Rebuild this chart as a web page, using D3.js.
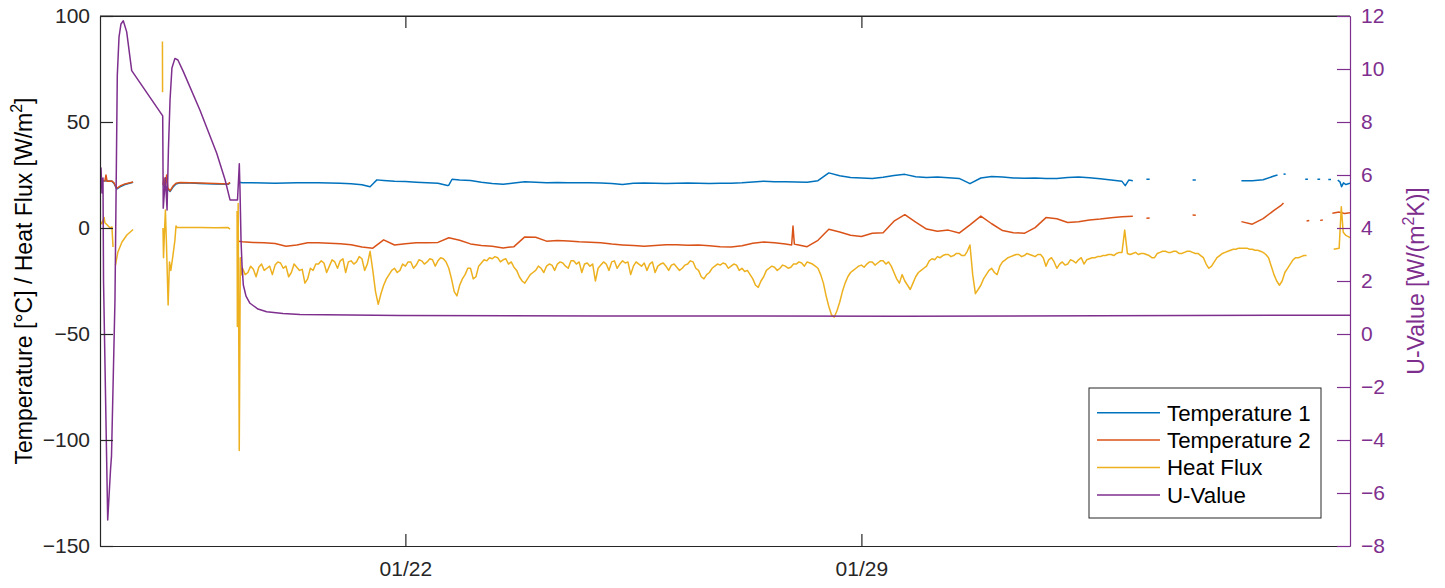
<!DOCTYPE html>
<html><head><meta charset="utf-8">
<script src="https://cdn.jsdelivr.net/npm/d3@7"></script>
<style>
body{margin:0;background:#fff}
text{font-family:"Liberation Sans",Arial,Helvetica,sans-serif}
</style>
</head><body>
<svg id="chart" width="1445" height="588"></svg>
<script>
// ---------------- DATA ----------------
// time origin; every series time is given in hours from this moment
const baseTime = new Date(2021, 0, 19, 12, 0);
const xDomainHours = [-52.5, 408];
const xTickDates = [new Date(2021, 0, 22), new Date(2021, 0, 29)];
const leftTicks = [-150, -100, -50, 0, 50, 100];
const rightTicks = [-8, -6, -4, -2, 0, 2, 4, 6, 8, 10, 12];
const seriesNames = ["Temperature 1", "Temperature 2", "Heat Flux", "U-Value"];
const seriesColors = ["#0072BD", "#D95319", "#EDB120", "#7E2F8E"];

// [hours, value]; null = gap in the record
const temperature1 = [
  [-52.5,22.4],[-48.1,22.0],[-47.3,21.0],[-46.35,18.4],[-45.1,19.4],[-43.3,20.5],[-40.3,21.6],null,
  [-29.3,20.0],[-28.2,19.5],[-26.7,17.2],[-25.6,19.3],[-24.5,20.8],[-23.0,21.3],[-19.3,21.2],[-15.7,21.0],[-10.1,20.8],[-5.3,20.6],[-4.6,21.3],null,
  [-1.5,21.6],[0,21.4],[4,21.3],[8,21.2],[12,21.1],[16,21.2],[20,21.3],[24,21.4],[28,21.3],[32,21.2],[36,21.1],[40,20.9],[44,20.4],[47,19.5],[48,20.8],[49.5,22.7],[52,22.4],
  [56,22.0],[60,21.9],[64,21.6],[68,21.3],[72,21.1],[75.5,20.0],[76,20.2],[77.2,23.0],[80,22.6],[84,22.4],[88,21.6],[92,21.0],[96,20.6],[100,21.2],[104,21.8],
  [108,21.6],[112,21.4],[116,21.5],[120,21.3],[124,21.4],[128,21.3],[132,21.2],[136,21.0],[140,20.5],[144,21.1],[148,21.2],[152,21.1],[156,21.0],[160,21.1],
  [164,21.2],[168,21.1],[172,21.0],[176,21.1],[180,21.1],[184,21.3],[188,21.7],[192,22.1],[196,21.8],[200,21.8],[204,21.7],[208,21.6],[212,22.3],[216,26.0],
  [220,24.6],[224,23.8],[228,23.6],[232,23.4],[236,23.9],[240,24.8],[244,25.3],[248,24.2],[252,23.8],[256,24.0],[260,23.7],[264,23.4],[268,20.9],[272,23.6],
  [276,24.3],[280,24.0],[284,23.6],[288,23.5],[292,23.6],[296,23.3],[300,23.4],[304,23.8],[308,24.0],[312,23.7],[316,23.2],[320,22.6],[324,22.0],[325.2,20.0],
  [326.5,22.6],[328,22.3],null,[333,23.0],[334.2,23.0],null,[350,22.6],[351.2,22.6],null,
  [368,22.3],[372,22.3],[376,22.8],[380,24.5],[381.3,25.0],null,[383.5,25.5],[384.3,25.4],null,[391.5,23.0],[392.5,23.0],null,[396,23.0],[397,23.0],null,
  [400,22.9],[401,22.9],null,[403.5,22.6],[404.3,21.8],[404.9,19.5],[405.6,21.3],[406.5,20.5],[408,21.1]
];
const temperature2 = [
  [-52.5,22.6],[-50.7,22.2],[-50.3,25.0],[-49.9,22.0],[-48.1,22.2],[-47.3,21.2],[-46.35,18.7],[-45.1,19.8],[-43.3,20.8],[-40.3,21.7],null,
  [-29.3,20.3],[-28.9,23.6],[-28.6,17.9],[-27.95,25.0],[-27.5,18.9],[-26.7,17.5],[-25.6,19.8],[-24.5,21.1],[-23.0,21.5],[-19.3,21.4],[-15.7,21.2],[-10.1,21.0],[-5.3,20.8],[-4.6,21.5],null,
  [-1.5,-6.2],[0,-6.5],[4,-6.8],[8,-7.0],[12,-7.3],[16,-8.6],[20,-8.0],[24,-7.0],[28,-6.9],[32,-7.2],[36,-7.4],[40,-7.9],[44,-9.0],[48,-9.5],[52,-5.6],
  [56,-8.0],[60,-7.4],[64,-7.0],[68,-7.0],[72,-6.8],[76,-4.6],[80,-5.8],[84,-7.5],[88,-8.2],[92,-8.6],[96,-9.4],[100,-8.8],[104,-4.2],[108,-4.4],
  [112,-6.2],[116,-5.9],[120,-6.1],[124,-6.5],[128,-6.7],[132,-7.0],[136,-7.6],[140,-8.0],[144,-8.3],[148,-8.6],[152,-8.2],[156,-7.9],[160,-7.9],
  [164,-8.1],[168,-8.0],[172,-8.4],[176,-8.8],[180,-9.0],[184,-8.4],[188,-7.2],[192,-6.6],[196,-7.0],[200,-7.6],[202.3,-8.0],[202.8,0.9],[203.3,-7.6],
  [204,-7.8],[208,-8.8],[212,-5.8],[216,-0.6],[220,-1.9],[224,-3.4],[228,-4.0],[232,-2.5],[236,-2.2],[240,3.2],[244,6.3],[248,2.8],[252,-0.5],
  [256,-1.5],[260,-1.0],[264,-2.4],[268,1.5],[272,5.6],[276,2.0],[280,-1.2],[284,-2.2],[288,-2.5],[292,0.2],[296,4.9],[300,4.4],[304,2.6],[308,3.0],
  [312,3.8],[316,4.2],[320,4.8],[324,5.3],[328,5.6],null,[333,4.6],[334.2,4.7],null,[350,6.1],[351.2,6.0],null,
  [368,3.0],[372,1.8],[376,4.4],[380,8.3],[382.5,10.5],[383.5,11.8],null,[392,3.3],[393,3.5],null,[397,3.6],[398,3.8],null,
  [401.5,7.0],[404,7.5],[406,6.8],[408,7.2]
];
// heat flux before the main record, [hours, value]
const heatFluxEarly = [
  [-52.5,3.5],[-51.8,2],[-51.0,5],[-50.7,2.5],[-49.9,1.5],[-48.8,0],[-48.1,0.5],[-47.7,-9],null,
  [-46.8,-17.5],[-45.9,-11.3],[-44.4,-6.6],[-42.6,-3.3],[-40.3,-0.7],null,
  [-29.5,88],[-29.45,64],null,
  [-29.3,0],[-29.1,-14],[-28.75,-2],[-28.4,8.5],[-28.0,-8],[-27.4,-36.3],[-26.9,-16],[-26.4,-20],[-25.6,-12.7],[-24.9,-5.7],[-24.5,1],[-24.1,0.2],
  [-15.7,0.2],[-10.1,0.1],[-5.3,0.2],[-4.6,-0.5],null,
  [-2.0,8],[-1.9,-46.5],[-1.6,11.6],[-1.2,-105],[-0.8,-14],[-0.4,-22]
];
// main heat flux record: one reading per hour from hour 0
const heatFluxHourly = [
  -19,-22,-21,-18,-19.5,-23,-18.5,-17,-20,-19,-18,-22,-17.5,-16,-16.5,-19,-18,-23,-21,-17,
  -18.5,-20,-19.5,-26,-24,-19,-20,-17,-17,-15.5,-16.5,-21,-18,-15,-16,-19,-15.5,-14.5,-21,-16,
  -15.5,-17,-16,-13.5,-14.5,-20,-17,-11,-20,-30,-36,-31,-27,-24,-22,-20,-19,-21,-20,-17,
  -18,-16,-16,-19,-17.5,-15,-15.5,-17,-16,-14.5,-15,-18,-15.5,-14,-14.5,-16,-19,-24,-30,-32,
  -27,-24,-22,-19,-19,-24,-23,-18,-16.5,-15,-15.5,-14,-14.5,-13.5,-14,-16,-15,-14.5,-17,-16,
  -18.5,-20,-23,-25,-26,-24,-22,-21,-20,-18,-19,-21,-18,-17,-17.5,-20,-17,-16,-16.5,-18,
  -19,-15.5,-15.5,-17,-16,-21,-17,-16.5,-18,-17,-25,-19,-17.5,-16,-17,-20,-16,-15.5,-19,-17,
  -15.5,-16.5,-16,-22,-18,-16,-17,-18,-16.5,-20,-17,-16,-21,-18,-17,-16.5,-18,-20,-17.5,-17,
  -18.5,-20,-19,-17.5,-17,-15.5,-16,-19,-20,-23,-24,-22,-21,-19,-18,-17,-17.5,-16.5,-17,-19,
  -18,-17,-17.5,-20,-19,-20.5,-20,-22,-24,-27,-28,-25,-23,-20,-19,-18,-18.5,-20,-19,-17.5,
  -18,-19,-18.5,-17,-17,-16,-16.5,-18,-16,-16.5,-17,-18,-19,-22,-26,-32,-37,-41,-42,-39,
  -35,-30,-26,-23,-21,-20,-19,-18,-17.5,-18.5,-17,-16,-16,-17.5,-16.5,-15.5,-15.5,-17,-16,-18,
  -21,-24,-26,-22,-25,-27,-29,-26,-23,-21,-20,-19,-18,-15.5,-14.5,-15,-13.5,-14,-13,-12.5,
  -12.5,-13.5,-13,-12,-12,-13,-13,-11,-8,-22,-31,-29,-27,-24,-22,-20,-19,-21,-22,-18,
  -16,-15,-14,-13.5,-13,-12.5,-12.5,-13.5,-13,-12,-12.5,-13,-13.5,-12.5,-12.5,-14,-18,-15,-14,-16,
  -19,-17,-16,-17.5,-17,-15,-15.5,-16.5,-15,-14,-17,-15,-14.5,-14,-14,-13.5,-13.5,-13,-13,-12.5,
  -12.5,-13,-12,-11.5,-11.5,-1,-12,-12.5,-12,-11.5,-12.5,-12,-12,-12.5,-13,-14,-14,-12,-11.5,-11,
  -11,-11.5,-11.5,-11,-11,-12,-12,-11.5,-11,-11,-11.5,-12,-12,-13,-14,-17,-19,-18,-16,-14,
  -13,-12,-11.5,-11,-10.5,-10,-10,-9.5,-9.5,-9.5,-9.5,-10,-10,-10.5,-10.5,-11,-11.5,-12.5,-14,-18,
  -22,-25,-27,-25,-21,-19,-17,-15,-14,-14,-13.5,-13,-13
];
// heat flux after the data gap, [hours, value]
const heatFluxLate = [[402,-10],[404,-9.5],[404.8,10],[405.5,-2],[406.5,-3.5],[408,-4.5]];
const uValue = [
  [-52.4,6.0],[-52.13,6.26],[-51.77,5.32],[-51.4,5.89],[-51.2,2.0],[-49.66,-7.02],[-48.63,-5.13],[-48.26,-4.6],[-46.98,1.3],[-46.13,9.75],
  [-45.5,11.2],[-44.77,11.7],[-43.92,11.82],[-42.67,11.4],[-40.82,9.94],[-29.4,8.23],[-29.2,4.75],[-28.4,5.9],[-27.8,4.68],[-27.3,6.94],
  [-26.7,8.83],[-26.0,10.04],[-24.9,10.4],[-23.8,10.34],[-21.8,9.9],[-15.7,8.45],[-9.5,6.82],[-6.4,5.81],[-4.6,5.06],[-1.84,5.06],[-1.47,5.81],
  [-1.18,6.42],[-0.92,5.43],[-0.55,3.55],[-0.18,2.6],[0.3,1.85],[1.29,1.43],[2.76,1.16],[5.7,0.94],[8.9,0.84],[14.9,0.77],[21.2,0.74],
  [58,0.70],[131.7,0.68],[242.3,0.67],[316,0.69],[408,0.71]
];

const heatFlux = heatFluxEarly
  .concat(heatFluxHourly.map((v, i) => [i, v]))
  .concat([null], heatFluxLate);

// ---------------- DRAW ----------------
const W = 1445, H = 588;
const plot = {left: 100, right: 1350, top: 16, bottom: 546};
const axisColor = "#262626";
const rightColor = "#7E2F8E";
const tickFont = 21, labelFont = 23, legendFont = 22.3;
const lineWidth = 1.5;

const toDate = h => new Date(baseTime.getTime() + h * 3600e3);
const x = d3.scaleTime().domain(xDomainHours.map(toDate)).range([plot.left, plot.right]);
const yL = d3.scaleLinear().domain([-150, 100]).range([plot.bottom, plot.top]);
const yR = d3.scaleLinear().domain([-8, 12]).range([plot.bottom, plot.top]);

const svg = d3.select("#chart");
svg.append("rect").attr("width", W).attr("height", H).attr("fill", "#fff");

svg.append("defs").append("clipPath").attr("id", "clip")
  .append("rect").attr("x", plot.left).attr("y", plot.top)
  .attr("width", plot.right - plot.left).attr("height", plot.bottom - plot.top);

const g = svg.append("g").attr("clip-path", "url(#clip)");
const lineL = d3.line().defined(d => d !== null).x(d => x(toDate(d[0]))).y(d => yL(d[1]));
const lineR = d3.line().defined(d => d !== null).x(d => x(toDate(d[0]))).y(d => yR(d[1]));

[temperature1, temperature2, heatFlux].forEach((s, i) => {
  g.append("path").datum(s).attr("d", lineL).attr("fill", "none")
    .attr("stroke", seriesColors[i]).attr("stroke-width", lineWidth).attr("stroke-linejoin", "round");
});
g.append("path").datum(uValue).attr("d", lineR).attr("fill", "none")
  .attr("stroke", seriesColors[3]).attr("stroke-width", lineWidth).attr("stroke-linejoin", "round");

// box top line
svg.append("line").attr("x1", plot.left).attr("x2", plot.right).attr("y1", plot.top).attr("y2", plot.top)
  .attr("stroke", axisColor).attr("stroke-width", 1.2);

// bottom axis
const xAxis = svg.append("g").attr("transform", `translate(0,${plot.bottom})`)
  .call(d3.axisBottom(x).tickValues(xTickDates).tickFormat(d3.timeFormat("%m/%d"))
    .tickSize(-12).tickSizeOuter(0).tickPadding(15));
// top ticks
const xAxisTop = svg.append("g").attr("transform", `translate(0,${plot.top})`)
  .call(d3.axisTop(x).tickValues(xTickDates).tickFormat("").tickSize(-12).tickSizeOuter(0));

// left axis
const yAxisL = svg.append("g").attr("transform", `translate(${plot.left},0)`)
  .call(d3.axisLeft(yL).tickValues(leftTicks).tickSize(-13).tickSizeOuter(0).tickPadding(10));

// right axis
const yAxisR = svg.append("g").attr("transform", `translate(${plot.right},0)`)
  .call(d3.axisRight(yR).tickValues(rightTicks).tickSize(-13).tickSizeOuter(0).tickPadding(11));

[xAxis, xAxisTop, yAxisL].forEach(a => {
  a.selectAll("path,line").attr("stroke", axisColor).attr("stroke-width", 1.2);
  a.selectAll("text").attr("fill", axisColor).style("font-size", tickFont + "px");
});
yAxisR.selectAll("path,line").attr("stroke", rightColor).attr("stroke-width", 1.2);
yAxisR.selectAll("text").attr("fill", rightColor).style("font-size", tickFont + "px");

// axis titles
const cy = (plot.top + plot.bottom) / 2;
const tl = svg.append("text").attr("transform", `translate(24,${cy}) rotate(-90)`)
  .attr("text-anchor", "middle").attr("dy", "0.35em").attr("fill", "#000").style("font-size", labelFont + "px");
tl.append("tspan").text("Temperature [°C] / Heat Flux [W/m");
tl.append("tspan").attr("dy", -10).style("font-size", "16px").text("2");
tl.append("tspan").attr("dy", 10).text("]");

const tr = svg.append("text").attr("transform", `translate(1416,${cy}) rotate(-90)`)
  .attr("text-anchor", "middle").attr("dy", "0.35em").attr("fill", rightColor).style("font-size", labelFont + "px");
tr.append("tspan").text("U-Value [W/(m");
tr.append("tspan").attr("dy", -10).style("font-size", "16px").text("2");
tr.append("tspan").attr("dy", 10).text("K)]");

// legend
const lg = svg.append("g");
lg.append("rect").attr("x", 1089).attr("y", 388).attr("width", 232).attr("height", 130)
  .attr("fill", "#fff").attr("stroke", axisColor).attr("stroke-width", 1);
seriesNames.forEach((n, i) => {
  const yy = 412.7 + i * 27.4;
  lg.append("line").attr("x1", 1097).attr("x2", 1160).attr("y1", yy).attr("y2", yy)
    .attr("stroke", seriesColors[i]).attr("stroke-width", lineWidth);
  lg.append("text").attr("x", 1167).attr("y", yy).attr("dy", "0.35em")
    .attr("fill", "#000").style("font-size", legendFont + "px").text(n);
});
</script>
</body></html>
